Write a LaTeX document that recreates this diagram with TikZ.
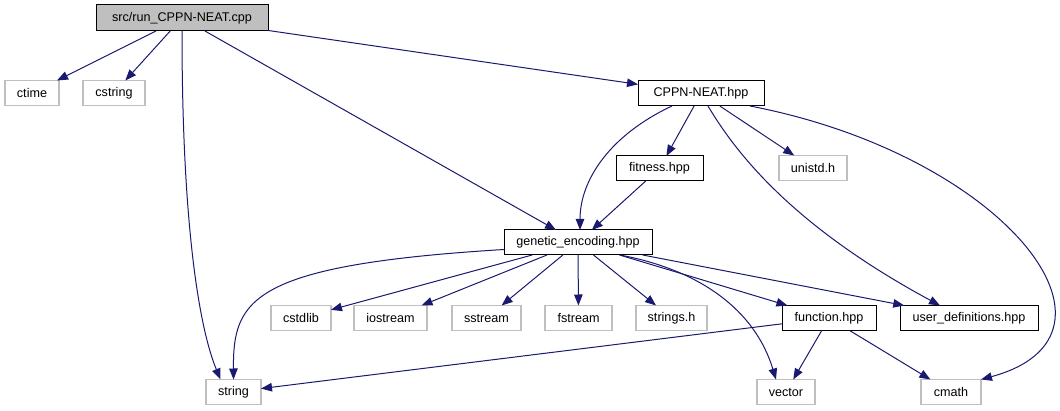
\documentclass[tikz,border=0pt]{standalone}
\usepackage{fontspec}
\setmainfont{Liberation Sans}
\usepackage{tikz}
\usepackage{xcolor}
\usetikzlibrary{arrows.meta,positioning,calc}
\definecolor{edgeblue}{HTML}{191970}
\definecolor{extgray}{HTML}{BFBFBF}
\definecolor{rootfill}{HTML}{BFBFBF}
\tikzset{
  filebox/.style={draw=black,fill=white,line width=1pt,rectangle,
                  minimum height=25pt,inner sep=0pt,outer sep=0pt,
                  font=\fontsize{12.6}{14}\selectfont},
  extbox/.style={filebox,draw=extgray,line width=1.3pt},
  rootbox/.style={filebox,fill=rootfill},
  incarr/.style={-{Triangle[length=11pt,width=8.5pt,fill=edgeblue]},
                 line width=1pt,draw=edgeblue}
}
\begin{document}
\begin{tikzpicture}[x=1pt,y=-1pt]
    \useasboundingbox (0,0) rectangle (1060,411);
    \node[rootbox,minimum width=172pt,minimum height=26pt] (run) at (182,18) {src/run\_CPPN-NEAT.cpp};
    \node[extbox,minimum width=54pt] (ctime) at (32,93) {ctime};
    \node[extbox,minimum width=62pt] (cstring) at (114,93) {cstring};
    \node[filebox,minimum width=126pt] (cppn) at (701,93.5) {CPPN-NEAT.hpp};
    \node[filebox,minimum width=87pt] (fitness) at (659.5,168.5) {fitness.hpp};
    \node[extbox,minimum width=68pt] (unistd) at (813,168) {unistd.h};
    \node[filebox,minimum width=148pt] (genetic) at (578,242.5) {genetic\_encoding.hpp};
    \node[extbox,minimum width=60pt] (cstdlib) at (301,318) {cstdlib};
    \node[extbox,minimum width=73pt] (iostream) at (390.5,318) {iostream};
    \node[extbox,minimum width=69pt] (sstream) at (486.5,318) {sstream};
    \node[extbox,minimum width=67pt] (fstream) at (578.5,318) {fstream};
    \node[extbox,minimum width=71pt] (stringsh) at (671.5,318) {strings.h};
    \node[filebox,minimum width=94pt] (function) at (829,318) {function.hpp};
    \node[filebox,minimum width=138pt] (userdef) at (969,318) {user\_definitions.hpp};
    \node[extbox,minimum width=55pt] (string) at (233.5,392) {string};
    \node[extbox,minimum width=58pt] (vector) at (786,392) {vector};
    \node[extbox,minimum width=60pt] (cmath) at (951,392) {cmath};
    \foreach \src/\dst in {run/ctime,run/cstring,run/genetic,run/cppn,
                           cppn/fitness,cppn/unistd,fitness/genetic,
                           genetic/cstdlib,genetic/iostream,genetic/sstream,
                           genetic/fstream,genetic/stringsh,genetic/function,
                           genetic/userdef,function/string,function/vector,
                           function/cmath}{
      \draw[incarr] (\src) -- (\dst);
    }
    \draw[incarr] (run.south) .. controls (182,230) and (200,330)
      .. ($(string.north)+(-13,0)$);
    \draw[incarr] ($(genetic.west)+(0,7)$) .. controls (250,265) and (233,300)
      .. (string.north);
    \draw[incarr] ($(cppn.south)+(-29,0)$) .. controls (610,135) and (580,180)
      .. ($(genetic.north)+(2,0)$);
    \draw[incarr] ($(cppn.south)+(7,0)$) .. controls (740,160) and (800,230)
      .. ($(userdef.north)+(-29,0)$);
    \draw[incarr] ($(cppn.south east)+(-14,0)$) .. controls (1005,155) and (1145,335)
      .. (cmath.north east);
    \draw[incarr] ($(genetic.south)+(42,0)$) .. controls (700,270) and (755,310)
      .. ($(vector.north)+(-10,0)$);
  \end{tikzpicture}
\end{document}
